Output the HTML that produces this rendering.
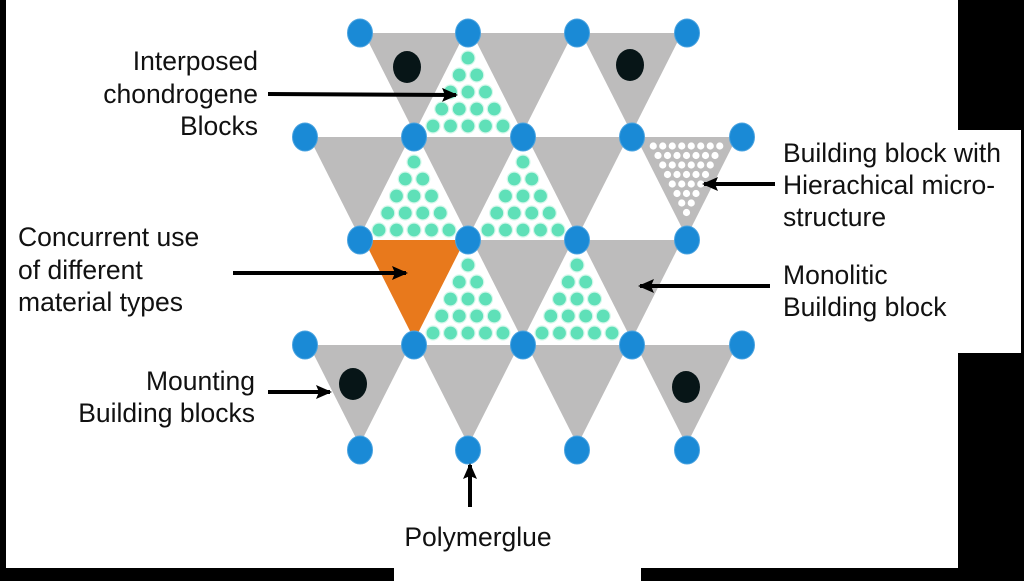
<!DOCTYPE html>
<html><head><meta charset="utf-8"><style>
html,body{margin:0;padding:0;background:#fff;}
svg{display:block;}
text{font-family:"Liberation Sans",Arial,sans-serif;font-size:26.5px;fill:#111;}
</style></head><body>
<svg id="s" width="1024" height="581" viewBox="0 0 1024 581" xmlns="http://www.w3.org/2000/svg">
<defs><marker id="ah" markerWidth="16" markerHeight="16" refX="14" refY="8" orient="auto" markerUnits="userSpaceOnUse"><path d="M0,1 L16,8 L0,15 L3,8 Z" fill="#000"/></marker></defs>
<rect x="0" y="0" width="1024" height="581" fill="#fff"/>
<g id="tri"></g>
<g id="dots"></g>
<rect x="0" y="0" width="6" height="581" fill="#000"/>
<rect x="958" y="0" width="66" height="130" fill="#000"/>
<rect x="1021" y="130" width="3" height="223" fill="#000"/>
<rect x="958" y="353" width="66" height="228" fill="#000"/>
<rect x="0" y="568" width="394" height="13" fill="#000"/>
<rect x="641" y="568" width="383" height="13" fill="#000"/>
<g text-anchor="end">
<text x="258" y="70">Interposed</text>
<text x="258" y="103">chondrogene</text>
<text x="258" y="135">Blocks</text>
<text x="255" y="390">Mounting</text>
<text x="255" y="422">Building blocks</text>
</g>
<text x="18" y="246">Concurrent use</text>
<text x="18" y="279">of different</text>
<text x="18" y="311">material types</text>
<text x="783" y="162">Building block with</text>
<text x="783" y="194">Hierachical micro-</text>
<text x="783" y="226">structure</text>
<text x="783" y="284">Monolitic</text>
<text x="783" y="316">Building block</text>
<text x="478" y="546" text-anchor="middle">Polymerglue</text>
<g stroke="#000" stroke-width="4" marker-end="url(#ah)">
<line x1="268" y1="94" x2="456" y2="95"/>
<line x1="233" y1="273" x2="406" y2="273"/>
<line x1="268" y1="392" x2="330" y2="392"/>
<line x1="775" y1="184" x2="704" y2="184"/>
<line x1="770" y1="286" x2="640" y2="286"/>
<line x1="470" y1="507" x2="470" y2="465"/>
</g>
</svg>
<script>
var NS="http://www.w3.org/2000/svg";
var T=document.getElementById('tri'),D=document.getElementById('dots');
function el(p,tag,a){var e=document.createElementNS(NS,tag);for(var k in a)e.setAttribute(k,a[k]);p.appendChild(e);return e;}
var H=104,W=109;
var rows=[33,137,240,345,450];
function down(x,y,fill){el(T,'polygon',{points:(x+4)+','+y+' '+(x+W-4)+','+y+' '+(x+W/2)+','+(y+H-4),fill:fill});}
var G='#bdbcbc';
down(360,33,G);down(468,33,G);down(577,33,G);
down(305,137,G);down(414,137,G);down(523,137,G);down(632,137,G);
down(360,240,'#e8791c');down(468,240,G);down(577,240,G);
down(305,345,G);down(414,345,G);down(523,345,G);down(632,345,G);
function green(ax,ay){for(var k=0;k<5;k++){var y=ay+25+k*17,n=k+1;for(var i=0;i<n;i++){var x=ax+(i-(n-1)/2)*17.5;el(T,'circle',{cx:x,cy:y,r:7,fill:'#5fe0b8',stroke:'#d4f7ea','stroke-width':1.2});}}}
green(468,33);green(414,137);green(523,137);green(468,240);green(577,240);
(function(){var x0=632,y0=137;for(var k=0;k<8;k++){var y=y0+9+k*9.5,n=8-k;for(var i=0;i<n;i++){var x=x0+W/2+(i-(n-1)/2)*9.5;el(T,'circle',{cx:x,cy:y,r:3.6,fill:'#fff'});}}})();
[[407,67],[630,65],[353,384],[686,387]].forEach(function(p){el(T,'ellipse',{cx:p[0],cy:p[1],rx:14,ry:16,fill:'#071517'});});
var xa=[360,468,577,687],xb=[305,414,523,632,742];
rows.forEach(function(y,i){(i%2?xb:xa).forEach(function(x){el(D,'ellipse',{cx:x,cy:y,rx:12.5,ry:14,fill:'#1a8ad6',stroke:'#4aa3e0','stroke-width':1});});});
</script>
</body></html>
